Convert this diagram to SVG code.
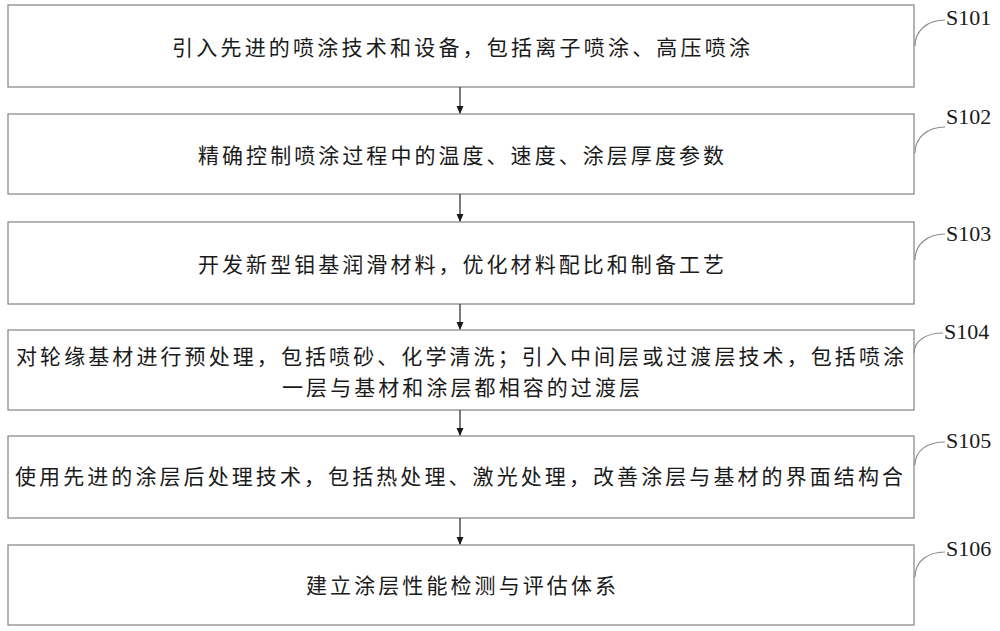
<svg xmlns="http://www.w3.org/2000/svg" width="1000" height="631" viewBox="0 0 1000 631">
<style>
.box{fill:#fff;stroke:#8c8c8c;stroke-width:1.3}
.t{font-family:"Noto Sans CJK SC","Noto Sans CJK JP",sans-serif;font-size:21px;fill:#1a1a1a;text-anchor:middle;dominant-baseline:central}
.lb{font-family:"Liberation Serif","DejaVu Serif",serif;font-size:22px;fill:#1a1a1a}
.lead{fill:none;stroke:#8c8c8c;stroke-width:1.2}
.con{stroke:#333;stroke-width:1.3;fill:none}
</style>
<defs>
<marker id="ah" markerWidth="8" markerHeight="8" refX="7" refY="4" orient="auto" markerUnits="userSpaceOnUse">
<path d="M0,0.5 L8,4 L0,7.5 Z" fill="#1a1a1a"/>
</marker>
</defs>
<rect width="1000" height="631" fill="#fff"/>
<g id="S101">
<rect class="box" x="8" y="5" width="906" height="82"/>
<text class="t" x="461" y="46" textLength="578" lengthAdjust="spacing">引入先进的喷涂技术和设备，包括离子喷涂、高压喷涂</text>
<path class="lead" d="M915,46 C915,30 928,20 945,20"/>
<text class="lb" x="946" y="25">S101</text>
</g>
<g id="S102">
<rect class="box" x="8" y="114" width="906" height="80"/>
<text class="t" x="461" y="154" textLength="526" lengthAdjust="spacing">精确控制喷涂过程中的温度、速度、涂层厚度参数</text>
<path class="lead" d="M915,153 C915,137 928,127 945,127"/>
<text class="lb" x="946" y="124">S102</text>
</g>
<g id="S103">
<rect class="box" x="8" y="222" width="906" height="82"/>
<text class="t" x="461" y="263" textLength="526" lengthAdjust="spacing">开发新型钼基润滑材料，优化材料配比和制备工艺</text>
<path class="lead" d="M915,260 C915,244 928,234 945,234"/>
<text class="lb" x="946" y="241">S103</text>
</g>
<g id="S104">
<rect class="box" x="8" y="330" width="906" height="80"/>
<text class="t" x="460" y="355" textLength="888" lengthAdjust="spacing">对轮缘基材进行预处理，包括喷砂、化学清洗；引入中间层或过渡层技术，包括喷涂</text>
<text class="t" x="461" y="386" textLength="358" lengthAdjust="spacing">一层与基材和涂层都相容的过渡层</text>
<path class="lead" d="M914,353 C914,341 926,333 943,333"/>
<text class="lb" x="944" y="339">S104</text>
</g>
<g id="S105">
<rect class="box" x="8" y="436" width="906" height="82"/>
<text class="t" x="459" y="475" textLength="888" lengthAdjust="spacing">使用先进的涂层后处理技术，包括热处理、激光处理，改善涂层与基材的界面结构合</text>
<path class="lead" d="M915,465 C915,450 928,442 945,442"/>
<text class="lb" x="946" y="448">S105</text>
</g>
<g id="S106">
<rect class="box" x="8" y="545" width="906" height="80"/>
<text class="t" x="461" y="584" textLength="310" lengthAdjust="spacing">建立涂层性能检测与评估体系</text>
<path class="lead" d="M915,577 C915,561 928,552 945,552"/>
<text class="lb" x="946" y="556">S106</text>
</g>
<g id="connectors">
<line class="con" x1="460" y1="87" x2="460" y2="113" marker-end="url(#ah)"/>
<line class="con" x1="460" y1="194" x2="460" y2="221" marker-end="url(#ah)"/>
<line class="con" x1="460" y1="304" x2="460" y2="329" marker-end="url(#ah)"/>
<line class="con" x1="460" y1="410" x2="460" y2="435" marker-end="url(#ah)"/>
<line class="con" x1="460" y1="518" x2="460" y2="544" marker-end="url(#ah)"/>
</g>
</svg>
